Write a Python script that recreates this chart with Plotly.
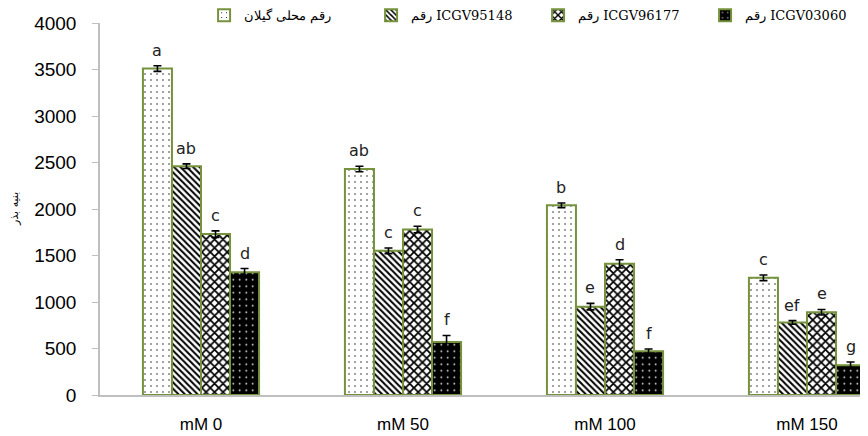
import plotly.graph_objects as go

categories = ["mM 0", "mM 50", "mM 100", "mM 150"]
series_names = ["رقم محلی گیلان", "رقم ICGV95148", "رقم ICGV96177", "رقم ICGV03060"]

local_vals = [3510, 2430, 2040, 1260]
icgv95148_vals = [2460, 1550, 950, 780]
icgv96177_vals = [1730, 1780, 1410, 890]
icgv03060_vals = [1320, 570, 470, 320]

local_err = [30, 30, 25, 30]
icgv95148_err = [25, 30, 35, 20]
icgv96177_err = [35, 35, 45, 30]
icgv03060_err = [40, 70, 25, 35]

local_letters = ["a", "ab", "b", "c"]
icgv95148_letters = ["ab", "c", "e", "ef"]
icgv96177_letters = ["c", "c", "d", "e"]
icgv03060_letters = ["d", "f", "f", "g"]

y_ticks = [0, 500, 1000, 1500, 2000, 2500, 3000, 3500, 4000]
y_title = "بنیه بذر"

values = [local_vals, icgv95148_vals, icgv96177_vals, icgv03060_vals]
errors = [local_err, icgv95148_err, icgv96177_err, icgv03060_err]
letters = [local_letters, icgv95148_letters, icgv96177_letters, icgv03060_letters]

patterns = [
    dict(shape=".", fgcolor="#000000", bgcolor="#ffffff", size=6, solidity=0.04, fillmode="replace"),
    dict(shape="\\", fgcolor="#000000", bgcolor="#ffffff", size=4.5, solidity=0.45, fillmode="replace"),
    dict(shape="x", fgcolor="#000000", bgcolor="#ffffff", size=6, solidity=0.5, fillmode="replace"),
    dict(shape=".", fgcolor="#ffffff", bgcolor="#000000", size=6.5, solidity=0.05, fillmode="replace"),
]

bargap = 0.425
outline = "#76923C"

fig = go.Figure()
for name, v, e, p in zip(series_names, values, errors, patterns):
    fig.add_trace(go.Bar(
        x=categories, y=v, name=name,
        marker=dict(color="#ffffff", pattern=p, line=dict(color=outline, width=2)),
        error_y=dict(type="data", array=e, visible=True, color="#000000", thickness=1.6, width=4),
    ))

bw = (1 - bargap) / len(values)
for j, (v, e, lt) in enumerate(zip(values, errors, letters)):
    for i in range(len(categories)):
        fig.add_annotation(
            x=i + (j - (len(values) - 1) / 2) * bw, y=v[i] + e[i],
            xref="x", yref="y", text=lt[i], showarrow=False,
            yanchor="bottom", yshift=4,
            font=dict(family="DejaVu Sans", size=16, color="#222222"),
        )

fig.add_annotation(
    text=y_title, xref="paper", yref="paper", x=0, y=0.5, xshift=-86,
    xanchor="center", yanchor="middle",
    textangle=-90, showarrow=False,
    font=dict(family="DejaVu Sans", size=11, color="#000000"),
)

# the page body keeps an 8px default margin, so the figure is 8px smaller than the window
fig.update_layout(
    width=860, height=428,
    margin=dict(l=92, r=0, t=15, b=41, autoexpand=False),
    paper_bgcolor="#ffffff", plot_bgcolor="#ffffff",
    barmode="group", bargap=bargap, bargroupgap=0,
    showlegend=True,
    legend=dict(
        orientation="h", xref="container", yref="paper",
        x=0.228, xanchor="left", y=1.021, yanchor="middle",
        font=dict(family="DejaVu Serif", size=13, color="#000000"),
        itemwidth=30, entrywidthmode="pixels", entrywidth=122,
        bgcolor="rgba(0,0,0,0)",
    ),
    xaxis=dict(
        type="category", range=[-0.5, 3.302],
        showline=True, linecolor="#BFBFBF", linewidth=1.5,
        ticks="", showgrid=False, zeroline=False,
        tickfont=dict(family="Liberation Sans", size=17, color="#000000"),
        ticklabelstandoff=13,
    ),
    yaxis=dict(
        range=[0, 4000], tickvals=y_ticks,
        showline=True, linecolor="#BFBFBF", linewidth=1.5,
        ticks="outside", ticklen=6, tickcolor="#BFBFBF",
        showgrid=False, zeroline=False,
        tickfont=dict(family="Liberation Sans", size=19, color="#000000"),
        ticklabelstandoff=12,
    ),
)

fig.write_html("out.html")
